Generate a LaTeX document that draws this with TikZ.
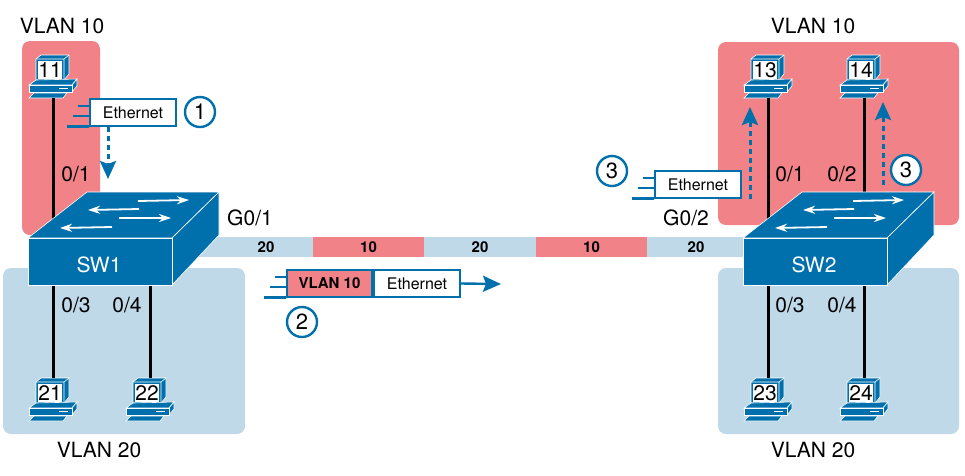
\documentclass[tikz,border=0pt]{standalone}
\usepackage{fontspec}
\setmainfont{TeX Gyre Heros}
\usepackage{tikz}
\usetikzlibrary{arrows.meta, calc}

\definecolor{netblue}{HTML}{0070AD}
\definecolor{vlanred}{HTML}{F18287}
\definecolor{vlanblue}{HTML}{BFD9E8}

\tikzset{
  pics/pcicon/.style={code={
    \fill[netblue, draw=white, line width=0.6pt] (-17,4) -- (-12,0) -- (16,0) -- (16,19) -- (11,25) -- (-17,25) -- cycle;
    \draw[white, line width=0.6pt] (-17,4) -- (11,4) -- (16,0) (11,4) -- (11,25);
    \fill[white] (-15,6) rectangle (9,23.5);
    \node[font=\fontsize{21}{21}\selectfont, inner sep=0pt] (-num) at (-3,15.5) {#1};
    \fill[netblue, draw=white, line width=0.6pt] (-24,30) -- (-17,25) -- (24,24) -- (19,30) -- cycle;
    \fill[netblue, draw=white, line width=0.6pt] (19,30) -- (24,24) -- (24,31) -- (19,37) -- cycle;
    \fill[netblue, draw=white, line width=0.6pt] (-24,30) rectangle (19,37);
    \draw[white, line width=1.2pt] (6,33.5) -- (15,33.5);
    \fill[netblue, draw=white, line width=0.6pt] (-24,43) -- (-19,38) -- (14,38) -- (10,43) -- cycle;
    \coordinate (-top) at (0,0);
    \coordinate (-bot) at (0,43);
  }},
  pics/switchicon/.style={code={
    \fill[netblue, draw=white, line width=0.6pt] (0,46) -- (59,0) -- (191,0) -- (144,46) -- cycle;
    \fill[netblue, draw=white, line width=0.6pt] (144,46) -- (191,0) -- (191,43) -- (144,93) -- cycle;
    \fill[netblue, draw=white, line width=0.6pt] (0,46) rectangle (144,93);
    \draw[swarrow] (110,9) -- (161,8);
    \draw[swarrow] (111,17) -- (60,18);
    \draw[swarrow] (91,26) -- (143,26);
    \draw[swarrow] (84,35) -- (32,36);
    \node[font=\fontsize{21}{21}\selectfont, text=white] (-lab) at (71,73) {#1};
  }},
}

\newcommand{\framelines}[1]{
  \draw[fline] ($(#1.north west)+(-11,8)$) -- ($(#1.north west)+(0,8)$);
  \draw[fline] ($(#1.north west)+(-16,18)$) -- ($(#1.north west)+(0,18)$);
  \draw[fline] ($(#1.north west)+(-22,28.5)$) -- ($(#1.north west)+(0,28.5)$);
}

\begin{document}
\begin{tikzpicture}[
  x=1pt, y=-1pt,
  zone/.style={rounded corners=8pt},
  link/.style={line width=3pt},
  seg/.style={minimum height=20pt, inner sep=0pt, font=\fontsize{15}{15}\selectfont\bfseries},
  port/.style={font=\fontsize{21}{21}\selectfont, inner sep=0pt},
  frame/.style={draw=netblue, line width=2.4pt, minimum height=27pt, minimum width=86pt, inner sep=0pt, fill=white,
                font=\fontsize{16}{16}\selectfont},
  fline/.style={draw=netblue, line width=2.4pt},
  flow/.style={draw=netblue, line width=3pt, dash pattern=on 5pt off 4pt, -{Stealth[length=18pt, width=16pt, inset=3pt]}},
  flowsolid/.style={draw=netblue, line width=2.4pt, -{Stealth[length=18pt, width=16pt, inset=3pt]}},
  badge/.style={circle, draw=netblue, line width=2.4pt, fill=white, minimum size=30pt, inner sep=0pt,
                font=\fontsize{22}{22}\selectfont},
  swarrow/.style={draw=white, line width=1.8pt, -{Stealth[length=12pt, width=8pt]}},
]
\useasboundingbox (0,0) rectangle (965,475);

% zones
\fill[zone, vlanred]  (22,41) rectangle (100,235);
\fill[zone, vlanred]  (718,42) rectangle (959,225);
\fill[zone, vlanblue] (3,268) rectangle (245,434);
\fill[zone, vlanblue] (718,268) rectangle (959,434);

% trunk
\node[seg, fill=vlanblue, minimum width=128pt, label={[font=\fontsize{15}{15}\selectfont\bfseries, xshift=17pt]center:20}] (t1) at (249,247) {};
\node[seg, fill=vlanred,  minimum width=111pt] (t2) at (368.5,247) {10};
\node[seg, fill=vlanblue, minimum width=112pt] (t3) at (480,247) {20};
\node[seg, fill=vlanred,  minimum width=111pt] (t4) at (591.5,247) {10};
\node[seg, fill=vlanblue, minimum width=98pt]  (t5) at (696,247) {20};

% PC
\foreach \num/\px/\py in {11/53/55, 13/768/55, 14/864/55, 21/53/378, 22/150/378, 23/768/378, 24/864/378}
  \pic (pc\num) at (\px,\py) {pcicon=\num};

% links
\coordinate (sw1a) at (53,228);
\coordinate (sw1c) at (53,280);
\coordinate (sw1d) at (150,280);
\coordinate (sw2a) at (768,228);
\coordinate (sw2b) at (864,200);
\coordinate (sw2c) at (768,280);
\coordinate (sw2d) at (864,280);
\draw[link] (pc11-bot) -- (sw1a);
\draw[link] (pc13-bot) -- (sw2a);
\draw[link] (pc14-bot) -- (sw2b);
\draw[link] (pc21-top) -- (sw1c);
\draw[link] (pc22-top) -- (sw1d);
\draw[link] (pc23-top) -- (sw2c);
\draw[link] (pc24-top) -- (sw2d);

% switches
\pic (sw1) at (28,192) {switchicon=SW1};
\pic (sw2) at (743,192) {switchicon=SW2};

% frames
\node[frame] (eth1) at (133,112.5) {Ethernet};
\node[frame, fill=vlanred, minimum width=85pt, font=\fontsize{15}{15}\selectfont\bfseries] (vlan2) at (329.5,283.5) {VLAN 10};
\node[frame] (eth2) at (417,283.5) {Ethernet};
\node[frame] (eth3) at (698,184.5) {Ethernet};
\framelines{eth1}
\framelines{vlan2}
\framelines{eth3}

% flows
\coordinate (tip1) at (108,179);
\coordinate (tip2) at (501,284);
\coordinate (from3a) at (750,199);
\coordinate (tip3a) at (750,107);
\coordinate (from3b) at (883,185);
\coordinate (tip3b) at (883,102);
\draw[flow] (eth1.south -| tip1) -- (tip1);
\draw[flowsolid] (eth2.east) -- (tip2);
\draw[flow] (from3a) -- (tip3a);
\draw[flow] (from3b) -- (tip3b);

% badges
\node[badge] (b1) at (200,112) {1};
\node[badge] (b2) at (302,322) {2};
\node[badge] (b3) at (612,171) {3};
\node[badge] (b4) at (906,170) {3};

% labels
\node[port] (v1) at (62,26) {VLAN 10};
\node[port] (v2) at (813,26) {VLAN 10};
\node[port] (v3) at (99,450) {VLAN 20};
\node[port] (v4) at (813,450) {VLAN 20};
\node[port] (g1) at (250,218) {G0/1};
\node[port] (g2) at (686,218) {G0/2};
\node[port] (p1) at (76,174) {0/1};
\node[port] (p3) at (76,305) {0/3};
\node[port] (p4) at (127,305) {0/4};
\node[port] (p5) at (790,174) {0/1};
\node[port] (p6) at (842,174) {0/2};
\node[port] (p7) at (790,305) {0/3};
\node[port] (p8) at (842,305) {0/4};
\end{tikzpicture}
\end{document}
